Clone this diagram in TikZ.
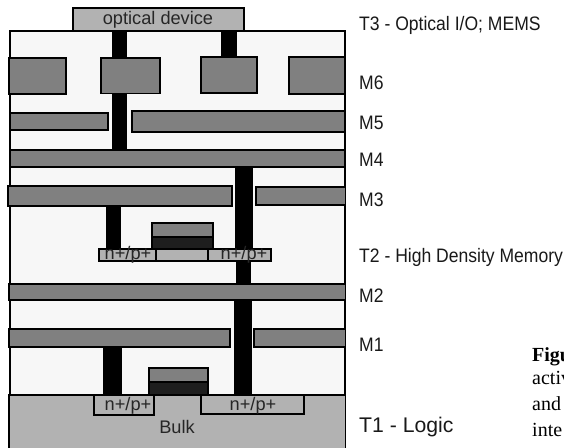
\documentclass[tikz,border=0pt]{standalone}
\usepackage{fontspec}
\setmainfont{Liberation Sans}
\newfontfamily\serifcap{Liberation Serif}
\newfontfamily\narrowsans[FakeStretch=0.9]{Liberation Sans}
\definecolor{diel}{HTML}{F7F7F7}
\definecolor{metal}{HTML}{808080}
\definecolor{silicon}{HTML}{B2B2B2}
\definecolor{gatedark}{HTML}{1E1E1E}
\tikzset{
  metalbox/.style={draw=black,line width=1.5pt,fill=metal},
  sibox/.style={draw=black,line width=1.5pt,fill=silicon},
  darkbox/.style={draw=black,line width=1.5pt,fill=gatedark},
  viabar/.style={fill=black},
  lab/.style={anchor=base west,inner sep=0pt,font=\narrowsans\fontsize{19.5}{22}\selectfont,text=black!90},
  devtext/.style={anchor=base,inner sep=0pt,font=\fontsize{18.2}{20}\selectfont,text=black!85},
  captext/.style={anchor=base west,inner sep=0pt,font=\serifcap\fontsize{20}{24}\selectfont,text=black}
}
\begin{document}
\begin{tikzpicture}[x=1pt,y=-1pt]
\useasboundingbox (0,0) rectangle (564,447);
\clip (0,0) rectangle (564,447);
% body
\fill[diel] (10,31) rectangle (345,395);
\draw[line width=2pt] (10,447) -- (10,31) -- (345,31) -- (345,447);
% bulk
\draw[sibox,line width=1.5pt] (9,395) rectangle (345.5,449);
% vias
\fill[viabar] (112,31) rectangle (127,150);
\fill[viabar] (221,31) rectangle (237,58);
\fill[viabar] (235,167) rectangle (253,250);
\fill[viabar] (106,204) rectangle (121,250);
\fill[viabar] (236,261) rectangle (251,286);
\fill[viabar] (234,300) rectangle (252,395);
\fill[viabar] (103,347) rectangle (122,395);
% optical device
\draw[sibox,line width=2pt] (72.5,8) rectangle (244,31);
\node[devtext] (optical) at (158,24) {optical device};
% M6
\draw[metalbox] (9,58) rectangle (66,94);
\draw[metalbox] (101,58) rectangle (160,93.5);
\draw[metalbox] (201,57) rectangle (257,93);
\draw[metalbox] (289,57) rectangle (345,94);
% M5
\draw[metalbox] (10,113) rectangle (108,130);
\draw[metalbox] (132,111) rectangle (345,132);
% M4
\draw[metalbox] (10,150) rectangle (345,167);
% M3
\draw[metalbox] (8,186) rectangle (232,206);
\draw[metalbox] (256,187) rectangle (345.5,205);
% T2 device
\draw[metalbox] (152,223) rectangle (213,237);
\draw[darkbox] (152,237) rectangle (213,249);
\draw[sibox] (99,249) rectangle (271,261);
\draw[line width=1.5pt] (156,249) -- (156,261);
\draw[line width=1.5pt] (208,249) -- (208,261);
\node[devtext] (nt2a) at (128,259) {n+/p+};
\node[devtext] (nt2b) at (244,259) {n+/p+};
% M2
\draw[metalbox] (9,284) rectangle (345.5,300);
% M1
\draw[metalbox] (9,329) rectangle (230,347);
\draw[metalbox] (254,329) rectangle (345.5,347);
% T1 device
\draw[metalbox] (149,368) rectangle (208,382);
\draw[darkbox] (149,382) rectangle (208,395);
\draw[sibox] (94,395) rectangle (154,415);
\draw[sibox] (201,395) rectangle (304,414);
\node[devtext] (nt1a) at (128,410) {n+/p+};
\node[devtext] (nt1b) at (253,410) {n+/p+};
\node[devtext] (bulk) at (177,433) {Bulk};
% labels
\node[lab] (t3) at (359,30) {T3 - Optical I/O; MEMS};
\node[lab] (m6) at (359,89) {M6};
\node[lab] (m5) at (359,129) {M5};
\node[lab] (m4) at (359,166) {M4};
\node[lab] (m3) at (359,206) {M3};
\node[lab] (t2) at (359,262) {T2 - High Density Memory};
\node[lab] (m2) at (359,302) {M2};
\node[lab] (m1) at (359,351) {M1};
\node[lab,font=\fontsize{21.2}{24}\selectfont] (t1) at (359,432) {T1 - Logic};
% caption, cut off by the edge of the picture as in the reference
\node[captext,font=\serifcap\bfseries\fontsize{20}{24}\selectfont] (capa) at (532,361) {Figu};
\node[captext] (capb) at (532,384) {activ};
\node[captext] (capc) at (532,410) {and};
\node[captext] (capd) at (532,436) {inte};
\end{tikzpicture}
\end{document}
